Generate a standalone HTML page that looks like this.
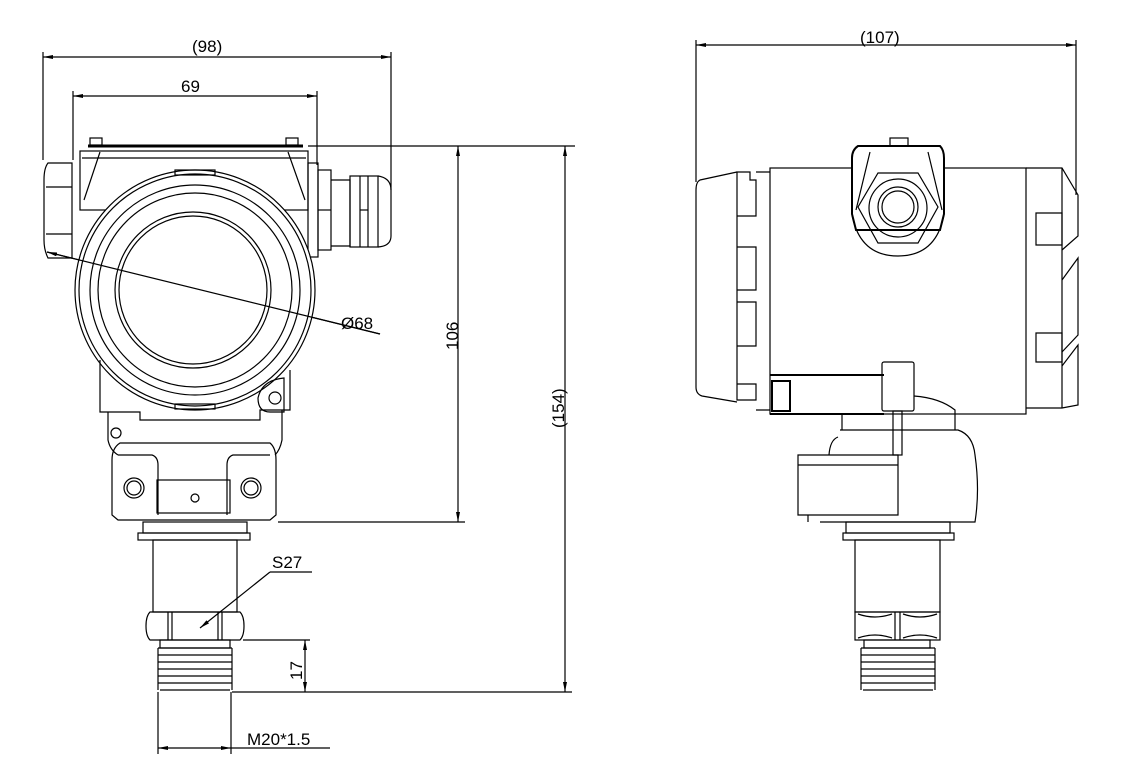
<!DOCTYPE html>
<html><head><meta charset="utf-8"><style>
html,body{margin:0;padding:0;background:#fff;width:1131px;height:780px;overflow:hidden}
svg{display:block}
text{font-family:"Liberation Sans",sans-serif;font-size:17px;fill:#000}
</style></head><body>
<svg width="1131" height="780" viewBox="0 0 1131 780" xmlns="http://www.w3.org/2000/svg">
<defs>
<marker id="a" viewBox="0 0 10 4" refX="10" refY="2" markerWidth="10" markerHeight="4" orient="auto-start-reverse" markerUnits="userSpaceOnUse"><path d="M0,0L10,2L0,4z" fill="#000"/></marker>
</defs>
<g fill="none" stroke="#000" stroke-width="1.2">
<line x1="43" y1="57" x2="391" y2="57" marker-start="url(#a)" marker-end="url(#a)"/>
<line x1="43" y1="52" x2="43" y2="160"/>
<line x1="391" y1="52" x2="391" y2="190"/>
<line x1="73" y1="96" x2="317" y2="96" marker-start="url(#a)" marker-end="url(#a)"/>
<line x1="73" y1="91" x2="73" y2="160"/>
<line x1="317" y1="91" x2="317" y2="165"/>
<line x1="308" y1="146" x2="575" y2="146"/>
<line x1="278" y1="522" x2="465" y2="522"/>
<line x1="458" y1="146" x2="458" y2="522" marker-start="url(#a)" marker-end="url(#a)"/>
<line x1="565" y1="146" x2="565" y2="692" marker-start="url(#a)" marker-end="url(#a)"/>
<line x1="243" y1="640" x2="310" y2="640"/>
<line x1="232" y1="692" x2="572" y2="692"/>
<line x1="305" y1="640" x2="305" y2="692" marker-start="url(#a)" marker-end="url(#a)"/>
<line x1="158" y1="692" x2="158" y2="754"/>
<line x1="231" y1="692" x2="231" y2="754"/>
<line x1="158" y1="748" x2="231" y2="748" marker-start="url(#a)" marker-end="url(#a)"/>
<line x1="231" y1="748" x2="330" y2="748"/>
<line x1="200" y1="628" x2="270" y2="572" marker-start="url(#a)"/>
<line x1="270" y1="572" x2="312" y2="572"/>
<line x1="47" y1="252" x2="380" y2="334" marker-start="url(#a)"/>

<line x1="88" y1="146" x2="303" y2="146" stroke-width="3"/>
<rect x="90" y="138" width="12" height="7"/><rect x="286" y="138" width="12" height="7"/>
<rect x="80" y="151" width="228" height="59"/>
<line x1="82" y1="158" x2="306" y2="158"/>
<path d="M100,152L84,200M288,152L305,200"/>
<path d="M48,163H72V258H48Q44,250 44,240V180Q44,168 48,163Z"/>
<line x1="46" y1="187" x2="72" y2="187"/><line x1="46" y1="234" x2="72" y2="234"/>
<rect x="308" y="163" width="10" height="94"/>
<rect x="318" y="170" width="13" height="80"/>
<line x1="318" y1="210" x2="331" y2="210"/>
<path d="M331,180H350V246H331"/>
<rect x="350" y="176" width="28" height="71"/>
<line x1="360" y1="176" x2="360" y2="247"/><line x1="368" y1="176" x2="368" y2="247"/>
<line x1="360" y1="210" x2="368" y2="210"/>
<path d="M378,176Q391,178 391,190V236Q391,246 378,247"/>
<circle cx="195" cy="290" r="120" fill="#fff"/>
<circle cx="195" cy="290" r="116"/>
<circle cx="195" cy="290" r="105"/>
<circle cx="195" cy="290" r="97"/>
<circle cx="193" cy="290" r="78"/>
<circle cx="193" cy="290" r="74"/>
<rect x="175" y="170" width="40" height="5"/><rect x="175" y="404" width="40" height="5"/>
<line x1="47" y1="252" x2="380" y2="334"/>
<path d="M100,360V412H140V420H260V410H290V370"/>
<path d="M108,412V440Q110,450 118,455M282,410V440Q280,450 275,455"/>
<circle cx="116" cy="433" r="5"/>
<path d="M258,398Q262,380 284,378V412H270Q258,412 258,398Z"/>
<circle cx="275" cy="398" r="6"/>
<path d="M120,443H270Q276,448 276,460V515L270,520H118L112,515V460Q112,448 120,443Z"/>
<path d="M118,455H152Q158,457 158,465V515M270,455H233Q227,457 227,465V515"/>
<rect x="157" y="480" width="73" height="33"/>
<circle cx="134" cy="488" r="10"/><circle cx="134" cy="488" r="7"/>
<circle cx="251" cy="488" r="10"/><circle cx="251" cy="488" r="7"/>
<circle cx="195" cy="498" r="4"/>
<rect x="143" y="522" width="104" height="11"/>
<rect x="138" y="533" width="112" height="7"/>
<rect x="153" y="540" width="84" height="72"/>
<path d="M150,612H240Q244,616 244,626Q244,636 240,640H150Q146,636 146,626Q146,616 150,612Z"/>
<line x1="168" y1="612" x2="168" y2="640"/><line x1="172" y1="612" x2="172" y2="640"/>
<line x1="218" y1="612" x2="218" y2="640"/><line x1="222" y1="612" x2="222" y2="640"/>
<rect x="160" y="640" width="70" height="8"/>
<path d="M158,648H232M158,655H232M158,662H232M158,669H232M158,676H232M158,683H232M160,690H230"/>
<line x1="158" y1="648" x2="158" y2="690"/><line x1="232" y1="648" x2="232" y2="690"/>

<line x1="696" y1="45" x2="1076" y2="45" marker-start="url(#a)" marker-end="url(#a)"/>
<line x1="696" y1="40" x2="696" y2="182"/>
<line x1="1076" y1="40" x2="1076" y2="195"/>
<path d="M737,172L700,180Q696,182 696,190V387Q696,394 702,396L737,402"/>
<path d="M737,172H750V180H756V216H737V247H756V290H737V302H756V346H737V384H756V400H737Z"/>
<path d="M756,172H770M756,410H770"/>
<rect x="770" y="168" width="256" height="246"/>
<rect x="890" y="138" width="18" height="8"/>
<path d="M858,146H940Q944,150 944,158V214L940,230H856L852,214V158Q852,150 858,146Z" fill="#fff" stroke-width="2"/>
<path d="M870,152L856,210M928,152L942,210"/>
<path d="M852,215Q860,256 898,256Q936,256 944,215"/>
<polygon points="878,173 918,173 938,207 918,243 878,243 858,207"/>
<circle cx="898" cy="208" r="29"/>
<circle cx="898" cy="207" r="20"/><circle cx="898" cy="207" r="16"/>
<path d="M1026,168H1062L1078,195V236L1062,250M1062,280L1078,258V335L1062,352M1062,366L1078,345V405L1062,408H1026"/>
<path d="M1036,213H1062V245H1036ZM1036,333H1062V362H1036Z"/>
<line x1="1062" y1="168" x2="1062" y2="408"/>
<path d="M770,375H884M770,414H884" stroke-width="2"/>
<rect x="772" y="381" width="18" height="30" stroke-width="2"/>
<rect x="882" y="362" width="32" height="49" rx="2"/>
<rect x="893" y="411" width="9" height="44"/>
<path d="M914,396Q940,398 955,410V413"/>
<path d="M842,413V430M955,413V430"/>
<path d="M838,437Q830,440 829,455M840,430H958Q973,435 975,455Q980,490 975,522H820"/>
<path d="M798,455H898V515H798Z"/>
<path d="M798,465H898"/>
<path d="M808,515V522"/>
<rect x="846" y="522" width="104" height="11"/>
<rect x="843" y="533" width="111" height="7"/>
<rect x="855" y="540" width="85" height="72"/>
<rect x="855" y="612" width="85" height="28"/>
<line x1="895" y1="612" x2="895" y2="640"/><line x1="900" y1="612" x2="900" y2="640"/>
<path d="M858,614Q875,620 892,614M903,614Q920,620 937,614M858,638Q875,632 892,638M903,638Q920,632 937,638"/>
<rect x="864" y="640" width="66" height="8"/>
<path d="M861,648H935M861,655H935M861,662H935M861,669H935M861,676H935M861,683H935M863,690H933"/>
<line x1="861" y1="648" x2="861" y2="690"/><line x1="935" y1="648" x2="935" y2="690"/>
</g>
<text x="192" y="52">(98)</text>
<text x="181" y="92">69</text>
<text x="341" y="329">Ø68</text>
<text x="272" y="568">S27</text>
<text x="247" y="745">M20*1.5</text>
<text transform="translate(302,680) rotate(-90)">17</text>
<text transform="translate(458,350) rotate(-90)">106</text>
<text transform="translate(564,428) rotate(-90)">(154)</text>
<text x="860" y="43">(107)</text>
</svg>
</body></html>
